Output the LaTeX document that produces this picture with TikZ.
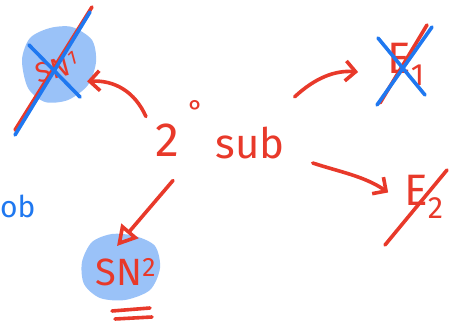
\documentclass[tikz,border=0pt]{standalone}
\usepackage{fontspec}
\setmainfont{Fira Sans}
\usetikzlibrary{arrows.meta}
\definecolor{ink}{HTML}{E8392A}
\definecolor{pen}{HTML}{1F78F0}
\definecolor{wash}{HTML}{9AC2F8}
\begin{document}
\begin{tikzpicture}[x=1pt,y=-1pt,
  stroke/.style={line width=3.6pt,line cap=round,line join=round},
  redpen/.style={stroke,draw=ink},
  bluepen/.style={stroke,draw=pen},
  lbl/.style={text=ink,inner sep=0pt},
  barb/.style={-{Straight Barb[length=10pt,width=20pt,line width=3.6pt]}},
  tri/.style={-{Triangle[open,length=20pt,width=22pt,line width=3.6pt]}}]
\useasboundingbox (0,0) rectangle (453,323);

% highlighter washes
\fill[wash] plot[smooth cycle] coordinates {(22,60) (30,38) (50,28) (72,27) (92,40) (96,62) (88,85) (68,100) (45,102) (28,88)};
\fill[wash] plot[smooth cycle] coordinates {(82,262) (92,242) (112,234) (135,236) (155,246) (160,268) (150,290) (125,300) (100,298) (84,284)};

% labels
\node[lbl,font=\fontsize{48}{48}\selectfont] (two) at (167,140) {2};
\node[lbl,font=\fontsize{30}{30}\selectfont] (deg) at (196,111) {°};
\node[lbl,font=\fontsize{42}{42}\selectfont] (sub) at (250,143) {sub};
\node[lbl,rotate=15,font=\fontsize{28}{28}\selectfont] (sn1) at (57,67) {SN\textsuperscript{1}};
\node[lbl,font=\fontsize{44}{44}\selectfont] (e1) at (406,64) {E\textsubscript{1}};
\node[lbl,font=\fontsize{44}{44}\selectfont] (e2) at (424,197) {E\textsubscript{2}};
\node[lbl,font=\fontsize{38}{38}\selectfont] (sn2) at (126,272) {SN\textsuperscript{2}};
\node[text=pen,inner sep=0pt,anchor=west,font=\fontsize{30}{30}\selectfont] (ob) at (0,206) {ob};

% double underline
\draw[redpen] (112,311) -- (150,308);
\draw[redpen] (115,319) -- (152,317);

% reaction arrows
\draw[redpen,barb] ([shift={(-9,-7)}]two.north west) .. controls (135,92) and (115,80) .. ([shift={(9,20)}]sn1.east);
\draw[redpen,barb] ([shift={(10,-30)}]sub.north east) .. controls (315,78) and (335,70) .. ([shift={(-29,8)}]e1.west);
\draw[redpen,barb] ([shift={(28,20)}]sub.east) .. controls (340,172) and (364,176) .. ([shift={(-16,17)}]e2.north west);
\draw[redpen,tri] ([shift={(6,24)}]two.south) -- ([shift={(-9,-12)}]sn2.north);

% crossed-out pathways
\draw[redpen] (15,130) -- (92,7);
\draw[bluepen] (15,135) -- (90,12);
\draw[bluepen] (29,45) -- (80,97);
\draw[redpen] (380,103) -- (427,25);
\draw[bluepen] (377,105) -- (432,27);
\draw[bluepen] (378,38) -- (425,95);
\draw[redpen] (385,245) -- (447,170);
\end{tikzpicture}
\end{document}
